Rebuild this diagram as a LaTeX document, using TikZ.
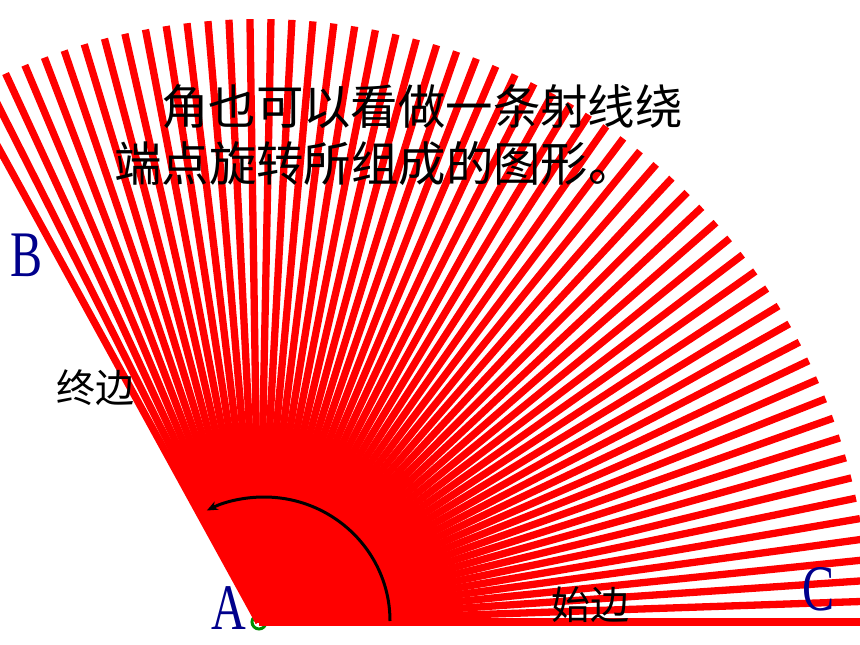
\documentclass[tikz,border=0pt]{standalone}
\usepackage{fontspec}
\setmainfont{Liberation Serif}
\newfontfamily\cjk{Noto Sans CJK SC}
\usetikzlibrary{arrows.meta}
\definecolor{rayred}{RGB}{255,0,0}
\definecolor{navyletter}{RGB}{0,0,140}
\definecolor{ptgreen}{RGB}{0,140,0}
\begin{document}
\begin{tikzpicture}[x=1pt,y=-1pt,
  ray/.style={draw=rayred, line width=7.3pt, line cap=butt},
  letter/.style={text=navyletter, font=\fontsize{65}{65}\selectfont, inner sep=0pt},
  cjklabel/.style={font=\cjk\fontsize{39}{39}\selectfont, inner sep=0pt, anchor=base west},
  titletext/.style={font=\cjk\fontsize{47.4}{47.4}\selectfont, inner sep=0pt, anchor=base west},
  turn/.style={draw=black, line width=3pt, -{Stealth[length=11pt,width=9pt]}}]
\useasboundingbox (0,0) rectangle (860,645);
\clip (0,0) rectangle (860,645);
\fill[white] (0,0) rectangle (860,645);
\coordinate (A) at (259,622);
\node[circle, draw=ptgreen, line width=3pt, minimum size=14pt, inner sep=0pt] (dot) at (A) {};
\foreach \k in {0,...,60} {
  \draw[ray] (A) -- ++({610*cos(\k*1.975)}, {-603*sin(\k*1.975)});
}
\coordinate (arcstart) at (390,621);
\draw[turn] (arcstart) arc[start angle=0, end angle=-117, x radius=126, y radius=124];
\node[letter] (lA) at (229,608) {\scalebox{0.74}[1]{A}};
\node[letter] (lB) at (27,255) {\scalebox{0.74}[1]{B}};
\node[letter] (lC) at (819,589) {\scalebox{0.74}[1]{C}};
\node[cjklabel] (zhong) at (56,402) {终边};
\node[cjklabel] (shi) at (551,619) {始边};
\node[titletext] (t1) at (161,124) {角也可以看做一条射线绕};
\node[titletext] (t2) at (114,181) {端点旋转所组成的图形。};
\end{tikzpicture}
\end{document}
